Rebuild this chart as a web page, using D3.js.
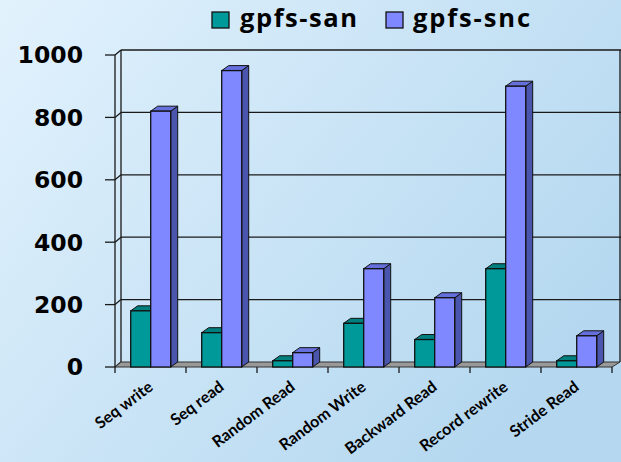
<!DOCTYPE html>
<html>
<head>
<meta charset="utf-8">
<script src="https://cdn.jsdelivr.net/npm/d3@7"></script>
<style>
html,body{margin:0;padding:0;}
body{width:621px;height:462px;overflow:hidden;}
</style>
</head>
<body>
<svg id="chart" width="621" height="462"></svg>
<script>
const categories = ["Seq write","Seq read","Random Read","Random Write","Backward Read","Record rewrite","Stride Read"];
const seriesNames = ["gpfs-san","gpfs-snc"];
const sanValues = [180, 110, 20, 140, 88, 315, 20];
const sncValues = [820, 950, 46, 315, 222, 900, 100];
const yTicks = [0, 200, 400, 600, 800, 1000];

const colors = {
  "gpfs-san": {front:"#009999", top:"#007f7f", side:"#006666"},
  "gpfs-snc": {front:"#7f88ff", top:"#6670dc", side:"#4a55ad"}
};

const svg = d3.select("#chart");
const W = 621, H = 462;

// background gradient
const defs = svg.append("defs");
const grad = defs.append("linearGradient").attr("id","bg")
  .attr("x1","0").attr("y1","0").attr("x2","1").attr("y2","0.6");
grad.append("stop").attr("offset","0").attr("stop-color","#e2f2fd");
grad.append("stop").attr("offset","1").attr("stop-color","#b5d8f0");
svg.append("rect").attr("width",W).attr("height",H).attr("fill","url(#bg)");

// geometry
const x0 = 115, x1 = 612;
const wallDx = 6, wallDy = -5;
const barDx = 7, barDy = -5;
const y = d3.scaleLinear().domain([0,1000]).range([367,55]);
const x = d3.scaleBand().domain(categories).range([x0,x1]).paddingInner(0).paddingOuter(0);
const xs = d3.scaleBand().domain(seriesNames).range([15.7, 55.7]);

const gridColor = "#1a1a1a";
const g = svg.append("g");

// back wall gridlines
g.selectAll("line.grid").data(yTicks.filter(d=>d>0)).enter().append("line")
  .attr("x1", x0+wallDx).attr("x2", 621)
  .attr("y1", d=>y(d)+wallDy).attr("y2", d=>y(d)+wallDy)
  .attr("stroke", gridColor).attr("stroke-width",1.3);
// left wall diagonals
g.selectAll("line.diag").data(yTicks).enter().append("line")
  .attr("x1", x0).attr("y1", d=>y(d))
  .attr("x2", x0+wallDx).attr("y2", d=>y(d)+wallDy)
  .attr("stroke", gridColor).attr("stroke-width",1.3);
// back left vertical
g.append("line").attr("x1",x0+wallDx).attr("x2",x0+wallDx)
  .attr("y1",y(1000)+wallDy).attr("y2",y(0)+wallDy)
  .attr("stroke",gridColor).attr("stroke-width",1.3);
// right back vertical
g.append("line").attr("x1",620).attr("x2",620)
  .attr("y1",y(1000)+wallDy).attr("y2",y(0)+wallDy)
  .attr("stroke",gridColor).attr("stroke-width",1.3);

// floor
g.append("polygon")
  .attr("points", [[x0,y(0)],[x1,y(0)],[x1+wallDx+2,y(0)+wallDy],[x0+wallDx,y(0)+wallDy]].map(p=>p.join(",")).join(" "))
  .attr("fill","#999999").attr("stroke","#333").attr("stroke-width",1);

// front axis line
g.append("line").attr("x1",x0).attr("x2",x0).attr("y1",y(1000)).attr("y2",y(0))
  .attr("stroke",gridColor).attr("stroke-width",1.3);
// y ticks
g.selectAll("line.ytick").data(yTicks).enter().append("line")
  .attr("x1", x0-10).attr("x2", x0).attr("y1", d=>y(d)).attr("y2", d=>y(d))
  .attr("stroke", gridColor).attr("stroke-width",1.3);
// y labels
g.selectAll("text.ylab").data(yTicks).enter().append("text")
  .attr("x", 83).attr("y", d=>y(d)).attr("dy","0.36em")
  .attr("text-anchor","end")
  .attr("font-family","DejaVu Sans").attr("font-weight","bold").attr("font-size","23.5px")
  .attr("fill","#000").text(d=>d);

// x ticks
const bounds = categories.map(c=>x(c)).concat([x1]);
g.selectAll("line.xtick").data(bounds).enter().append("line")
  .attr("x1", d=>d).attr("x2", d=>d).attr("y1", y(0)).attr("y2", y(0)+6)
  .attr("stroke", gridColor).attr("stroke-width",1.3);

// bars
const values = {"gpfs-san": sanValues, "gpfs-snc": sncValues};
const barW = xs.bandwidth();
categories.forEach((c,i)=>{
  seriesNames.forEach(s=>{
    const v = values[s][i];
    const bx = x(c) + xs(s);
    const by = y(v), bb = y(0);
    const col = colors[s];
    const bg = g.append("g");
    bg.append("polygon")
      .attr("points", [[bx+barW,by],[bx+barW+barDx,by+barDy],[bx+barW+barDx,bb+barDy],[bx+barW,bb]].map(p=>p.join(",")).join(" "))
      .attr("fill", col.side).attr("stroke","#111").attr("stroke-width",1).attr("stroke-linejoin","round");
    bg.append("polygon")
      .attr("points", [[bx,by],[bx+barDx,by+barDy],[bx+barW+barDx,by+barDy],[bx+barW,by]].map(p=>p.join(",")).join(" "))
      .attr("fill", col.top).attr("stroke","#111").attr("stroke-width",1).attr("stroke-linejoin","round");
    bg.append("rect")
      .attr("x", bx).attr("y", by).attr("width", barW).attr("height", bb-by)
      .attr("fill", col.front).attr("stroke","#111").attr("stroke-width",1.3);
  });
});

// category labels
g.selectAll("text.xlab").data(categories).enter().append("text")
  .attr("transform", d=>`translate(${x(d)+x.bandwidth()/2+3.5},389) rotate(-37)`)
  .attr("text-anchor","end")
  .attr("font-family","Lato").attr("font-weight","bold").attr("font-size","16px")
  .attr("fill","#000").text(d=>d);

// legend
const legend = svg.append("g");
const legItems = [{name:"gpfs-san", sx:212, tx:240}, {name:"gpfs-snc", sx:386, tx:413}];
legItems.forEach(it=>{
  legend.append("rect").attr("x",it.sx).attr("y",12).attr("width",17).attr("height",16)
    .attr("fill",colors[it.name].front).attr("stroke","#111").attr("stroke-width",1.3);
  legend.append("text").attr("x",it.tx).attr("y",27)
    .attr("font-family","Open Sans").attr("font-weight","bold").attr("font-size","25.5px")
    .attr("textLength",117).attr("lengthAdjust","spacing")
    .attr("fill","#000").text(it.name);
});
</script>
</body>
</html>
